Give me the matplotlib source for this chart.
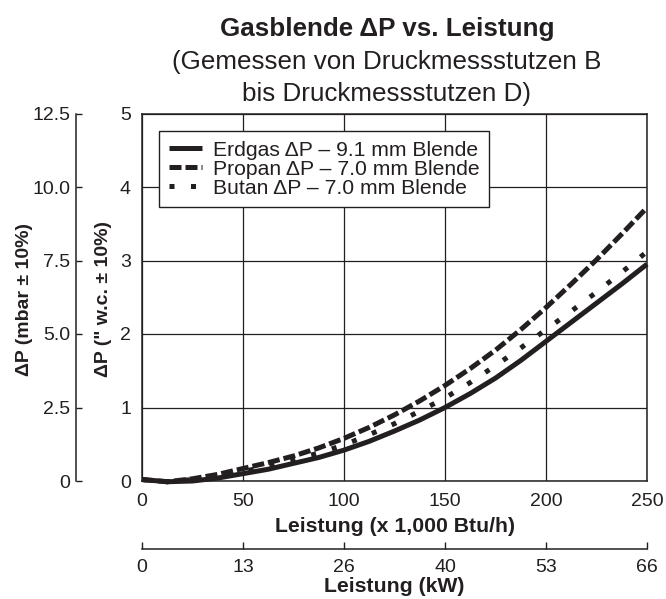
import matplotlib
matplotlib.use('Agg')
import matplotlib.pyplot as plt

plt.rcParams['font.family'] = ['Liberation Sans', 'DejaVu Sans']
plt.rcParams['text.color'] = '#231f20'

# Daten
leistung_btu = [0, 12.5, 25, 37.5, 50, 62.5, 75, 87.5, 100, 112.5, 125, 137.5,
                150, 162.5, 175, 187.5, 200, 212.5, 225, 237.5, 250]
erdgas = [0.02, -0.01, 0.0, 0.04, 0.10, 0.16, 0.24, 0.32, 0.42, 0.54, 0.68, 0.83,
          1.00, 1.19, 1.40, 1.64, 1.90, 2.16, 2.42, 2.68, 2.95]
propan = [0.02, -0.01, 0.03, 0.09, 0.17, 0.25, 0.34, 0.45, 0.58, 0.73, 0.90, 1.09,
          1.30, 1.53, 1.78, 2.06, 2.36, 2.68, 3.01, 3.36, 3.72]
butan = [0.02, -0.01, 0.02, 0.07, 0.13, 0.20, 0.29, 0.38, 0.49, 0.63, 0.78, 0.95,
         1.13, 1.34, 1.57, 1.81, 2.06, 2.31, 2.57, 2.84, 3.12]

btu_ticks = [0, 50, 100, 150, 200, 250]
kw_labels = ['0', '13', '26', '40', '53', '66']
wc_ticks = [0, 1, 2, 3, 4, 5]
mbar_ticks = [0, 2.5, 5.0, 7.5, 10.0, 12.5]
mbar_labels = ['0', '2.5', '5.0', '7.5', '10.0', '12.5']

dunkel = '#231f20'
W, H = 666, 599
fig = plt.figure(figsize=(6.66, 5.99), dpi=100)

left, right = 142 / W, 647 / W
bottom, top = 1 - 481 / H, 1 - 113.5 / H

ax = fig.add_axes([left, bottom, right - left, top - bottom])
lw = 3.6
ax.plot(leistung_btu, erdgas, color=dunkel, lw=lw, solid_capstyle='butt',
        label='Erdgas ΔP – 9.1 mm Blende', clip_on=False, zorder=3)
ax.plot(leistung_btu, propan, color=dunkel, lw=lw, linestyle=(0, (2.4, 0.8)),
        dash_capstyle='butt', label='Propan ΔP – 7.0 mm Blende', clip_on=False, zorder=3)
ax.plot(leistung_btu, butan, color=dunkel, lw=lw, linestyle=(0, (1, 3.3)),
        dash_capstyle='butt', label='Butan ΔP – 7.0 mm Blende', clip_on=False, zorder=3)

ax.set_xlim(0, 250)
ax.set_ylim(0, 5)
ax.set_xticks(btu_ticks)
ax.set_yticks(wc_ticks)
ax.tick_params(length=0, labelsize=14, colors=dunkel, pad=9)
ax.tick_params(axis='y', pad=8)
ax.grid(True, color=dunkel, lw=0.9)
ax.set_axisbelow(True)
for s in ax.spines.values():
    s.set_color(dunkel)
    s.set_linewidth(1.1)

leg = ax.legend(loc='upper left', bbox_to_anchor=(0.034, 0.952), borderaxespad=0,
                fontsize=15.2, frameon=True, fancybox=False, edgecolor=dunkel,
                handlelength=1.6, handletextpad=0.5, labelspacing=0.0,
                borderpad=0.45)
leg.get_frame().set_linewidth(1.0)
leg.get_frame().set_alpha(1)

# mbar-Achse links
ax_mbar = fig.add_axes([76 / W, bottom, 0.0001, top - bottom])
ax_mbar.set_ylim(0, 12.5)
ax_mbar.set_yticks(mbar_ticks)
ax_mbar.set_yticklabels(mbar_labels)
ax_mbar.set_xticks([])
for k in ['top', 'right', 'bottom']:
    ax_mbar.spines[k].set_visible(False)
ax_mbar.spines['left'].set_color(dunkel)
ax_mbar.spines['left'].set_linewidth(1.1)
ax_mbar.tick_params(axis='y', direction='in', length=4.5, width=1.0,
                    labelsize=14, colors=dunkel, pad=4)
ax_mbar.patch.set_visible(False)

# kW-Achse unten
ax_kw = fig.add_axes([left, 1 - 549 / H, right - left, 0.0001])
ax_kw.set_xlim(0, 250)
ax_kw.set_xticks(btu_ticks)
ax_kw.set_xticklabels(kw_labels)
ax_kw.set_yticks([])
for k in ['top', 'right', 'left']:
    ax_kw.spines[k].set_visible(False)
ax_kw.spines['bottom'].set_color(dunkel)
ax_kw.spines['bottom'].set_linewidth(1.1)
ax_kw.tick_params(axis='x', direction='in', length=5, width=1.0,
                  labelsize=14, colors=dunkel, pad=7)
ax_kw.patch.set_visible(False)

# Beschriftungen
mitte = (left + right) / 2
titel_x = 387 / W
fig.text(titel_x, 1 - 29 / H, 'Gasblende ΔP vs. Leistung', ha='center', va='center',
         fontsize=18.7, fontweight='bold')
fig.text(titel_x, 1 - 62 / H, '(Gemessen von Druckmessstutzen B', ha='center',
         va='center', fontsize=18.7)
fig.text(titel_x, 1 - 94 / H, 'bis Druckmessstutzen D)', ha='center', va='center',
         fontsize=18.7)
fig.text(mitte, 1 - 527 / H, 'Leistung (x 1,000 Btu/h)', ha='center', va='center',
         fontsize=15.3, fontweight='bold')
fig.text(mitte, 1 - 587 / H, 'Leistung (kW)', ha='center', va='center',
         fontsize=15.3, fontweight='bold')
fig.text(25 / W, 1 - 300 / H, 'ΔP (mbar ± 10%)', rotation=90, ha='center',
         va='center', fontsize=14, fontweight='bold')
fig.text(104 / W, 1 - 299 / H, 'ΔP (" w.c. ± 10%)', rotation=90, ha='center',
         va='center', fontsize=14, fontweight='bold')

fig.savefig('out.png', dpi=100)
